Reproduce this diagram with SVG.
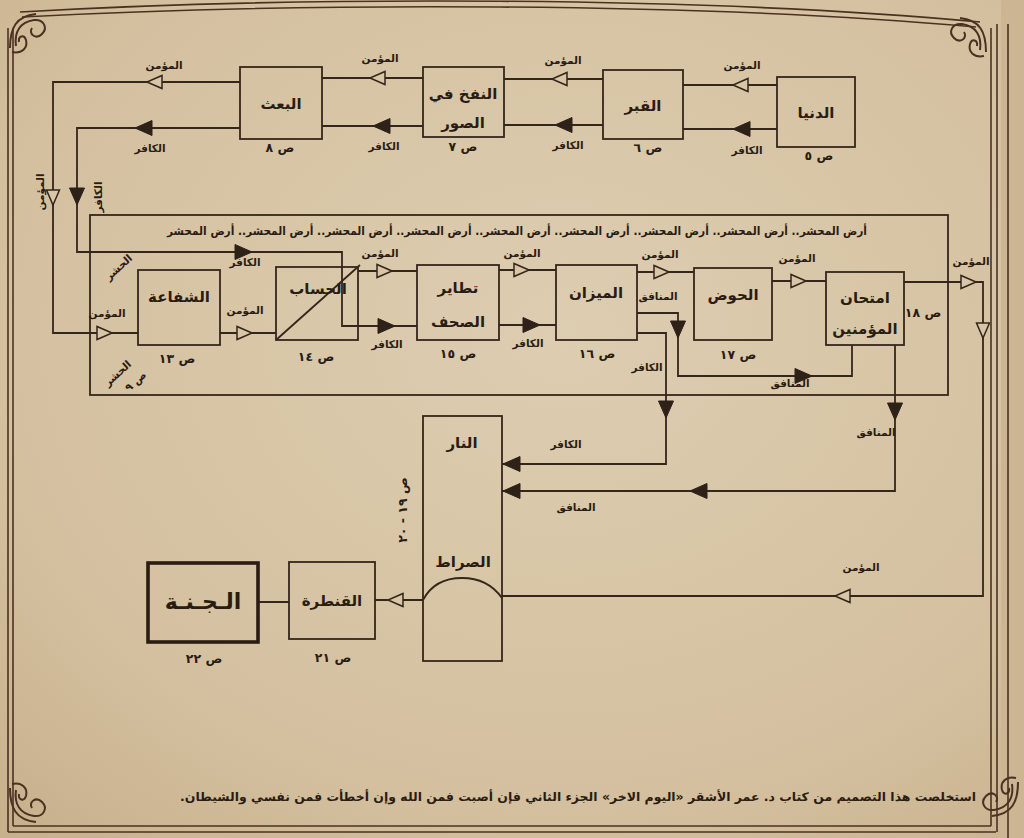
<svg xmlns="http://www.w3.org/2000/svg" width="1024" height="838" viewBox="0 0 1024 838">
<style>
.ln{fill:none;stroke:#35261b;stroke-width:1.8;stroke-linejoin:miter}
.box{fill:none;stroke:#35261b;stroke-width:1.8}
.fr{fill:none;stroke:#4a3222;stroke-width:1.6}
.t{font-family:"DejaVu Sans",sans-serif;font-weight:bold;fill:#2a1c12;text-anchor:middle;direction:rtl}
.big{font-size:15px}
.sm{font-size:10.5px}
.pg{font-size:12.5px}
.fa{fill:#2e2118;stroke:#2e2118;stroke-width:1}
.ha{fill:#d8c6a7;stroke:#35261b;stroke-width:1.5}
.orn{fill:none;stroke:#4a3222;stroke-width:2}
</style>
<defs>
<radialGradient id="bg" cx="0.55" cy="0.4" r="0.8">
<stop offset="0" stop-color="#ddcdb1"/>
<stop offset="0.7" stop-color="#d4c09f"/>
<stop offset="1" stop-color="#c7b08c"/>
</radialGradient>
<polygon id="F" class="fa" points="0,0 -17,-7.5 -17,7.5"/>
<polygon id="H" class="ha" points="0,0 -15,-6.5 -15,6.5"/>
<g id="curl">
<path class="orn" d="M4,40 C4,20 10,8 30,6 M10,38 C8,24 14,14 28,12 C38,11 42,20 36,26 C30,32 22,26 26,20 M6,44 C16,46 22,40 20,32 C18,26 12,28 13,34"/>
</g>
</defs>
<rect x="0" y="0" width="1024" height="838" fill="url(#bg)"/>
<rect x="1001" y="0" width="23" height="838" fill="#cbb592"/>
<g id="frame">
<path class="fr" d="M8,28 V832 M13,28 V826 M8,832 H996 M13,826 H991 M991,28 V826 M997,24 V832 M1008,24 V838"/>
<path class="fr" d="M20,12 C300,-4 700,-4 980,22 M22,17 C300,2 700,2 976,27"/>
<use href="#curl" transform="translate(6,8)"/>
<use href="#curl" transform="translate(990,12) scale(-1,1)"/>
<use href="#curl" transform="translate(6,828) scale(1,-1)"/>
<use href="#curl" transform="translate(1022,822) scale(-1,-1)"/>
</g>
<g id="connectors">
<rect class="ln" x="90" y="215" width="858" height="180"/>
<text class="t" font-size="11.5" x="517" y="235" textLength="700" lengthAdjust="spacingAndGlyphs">أرض المحشر.. أرض المحشر.. أرض المحشر.. أرض المحشر.. أرض المحشر.. أرض المحشر.. أرض المحشر.. أرض المحشر.. أرض المحشر</text>
<text class="t sm" transform="translate(121,270) rotate(-42)">الحشر</text>
<text class="t sm" transform="translate(120,376) rotate(-42)">الحشر</text>
<text class="t sm" transform="translate(138,384) rotate(-42)">ص ٩</text>
<path class="ln" d="M777,85 H683 M777,129 H683 M603,79 H504 M603,125 H504 M423,78 H322 M423,126 H322"/>
<path class="ln" d="M240,82 H53 V333 H138"/>
<path class="ln" d="M240,128 H77 V252 H342 V326 H417"/>
<path class="ln" d="M220,333 H276 M358,271 H417 M499,270 H556 M499,325 H556 M637,272 H694 M772,281 H826"/>
<path class="ln" d="M904,282 H983 V596 H502"/>
<path class="ln" d="M637,313 H678 V376 H852 V345"/>
<path class="ln" d="M637,333 H666 V464 H502"/>
<path class="ln" d="M895,345 V491 H502"/>
<path class="ln" d="M423,600 H375 M289,602 H258"/>
<use href="#H" transform="translate(733,85) rotate(180)"/>
<use href="#F" transform="translate(733,129) rotate(180)"/>
<use href="#H" transform="translate(552,79) rotate(180)"/>
<use href="#F" transform="translate(555,125) rotate(180)"/>
<use href="#H" transform="translate(370,78) rotate(180)"/>
<use href="#F" transform="translate(373,126) rotate(180)"/>
<use href="#H" transform="translate(147,82) rotate(180)"/>
<use href="#F" transform="translate(135,128) rotate(180)"/>
<use href="#H" transform="translate(53,205) rotate(90)"/>
<use href="#F" transform="translate(77,205) rotate(90)"/>
<use href="#F" transform="translate(252,252)"/>
<use href="#F" transform="translate(395,326)"/>
<use href="#H" transform="translate(112,333)"/>
<use href="#H" transform="translate(252,333)"/>
<use href="#H" transform="translate(392,271)"/>
<use href="#H" transform="translate(529,270)"/>
<use href="#F" transform="translate(540,325)"/>
<use href="#H" transform="translate(669,272)"/>
<use href="#H" transform="translate(806,281)"/>
<use href="#H" transform="translate(976,282)"/>
<use href="#H" transform="translate(983,338) rotate(90)"/>
<use href="#H" transform="translate(835,596) rotate(180)"/>
<use href="#F" transform="translate(678,338) rotate(90)"/>
<use href="#F" transform="translate(812,376)"/>
<use href="#F" transform="translate(666,418) rotate(90)"/>
<use href="#F" transform="translate(503,464) rotate(180)"/>
<use href="#F" transform="translate(895,420) rotate(90)"/>
<use href="#F" transform="translate(690,491) rotate(180)"/>
<use href="#F" transform="translate(503,491) rotate(180)"/>
<use href="#H" transform="translate(388,600) rotate(180)"/>
<text class="t sm" x="742" y="69">المؤمن</text>
<text class="t sm" x="747" y="154">الكافر</text>
<text class="t sm" x="563" y="64">المؤمن</text>
<text class="t sm" x="568" y="149">الكافر</text>
<text class="t sm" x="380" y="62">المؤمن</text>
<text class="t sm" x="384" y="150">الكافر</text>
<text class="t sm" x="164" y="69">المؤمن</text>
<text class="t sm" x="150" y="152">الكافر</text>
<text class="t sm" transform="translate(44,192) rotate(-90)">المؤمن</text>
<text class="t sm" transform="translate(102,197) rotate(-90)">الكافر</text>
<text class="t sm" x="245" y="266">الكافر</text>
<text class="t sm" x="107" y="317">المؤمن</text>
<text class="t sm" x="245" y="314">المؤمن</text>
<text class="t sm" x="380" y="257">المؤمن</text>
<text class="t sm" x="387" y="348">الكافر</text>
<text class="t sm" x="522" y="257">المؤمن</text>
<text class="t sm" x="528" y="347">الكافر</text>
<text class="t sm" x="660" y="258">المؤمن</text>
<text class="t sm" x="658" y="300">المنافق</text>
<text class="t sm" x="797" y="262">المؤمن</text>
<text class="t sm" x="971" y="265">المؤمن</text>
<text class="t sm" x="647" y="371">الكافر</text>
<text class="t sm" x="790" y="387">المنافق</text>
<text class="t sm" x="876" y="436">المنافق</text>
<text class="t sm" x="566" y="448">الكافر</text>
<text class="t sm" x="576" y="511">المنافق</text>
<text class="t sm" x="861" y="571">المؤمن</text>
</g>
<g id="n-dunya">
<rect class="box" x="777" y="77" width="78" height="70"/>
<text class="t big" x="816" y="118">الدنيا</text>
<text class="t pg" x="819" y="160">ص ٥</text>
</g>
<g id="n-qabr">
<rect class="box" x="603" y="70" width="80" height="69"/>
<text class="t big" x="643" y="111">القبر</text>
<text class="t pg" x="648" y="152">ص ٦</text>
</g>
<g id="n-nafkh">
<rect class="box" x="423" y="67" width="81" height="70"/>
<text class="t big" x="463" y="99">النفخ في</text>
<text class="t big" x="463" y="128">الصور</text>
<text class="t pg" x="463" y="151">ص ٧</text>
</g>
<g id="n-baath">
<rect class="box" x="240" y="67" width="82" height="72"/>
<text class="t big" x="281" y="109">البعث</text>
<text class="t pg" x="280" y="152">ص ٨</text>
</g>
<g id="n-shafaa">
<rect class="box" x="138" y="270" width="82" height="75"/>
<text class="t big" x="179" y="302">الشفاعة</text>
<text class="t pg" x="177" y="363">ص ١٣</text>
</g>
<g id="n-hisab">
<rect class="box" x="276" y="267" width="82" height="73"/>
<line class="ln" x1="276" y1="340" x2="360" y2="265"/>
<text class="t big" x="318" y="294">الحساب</text>
<text class="t pg" x="316" y="361">ص ١٤</text>
</g>
<g id="n-tatayur">
<rect class="box" x="417" y="265" width="82" height="75"/>
<text class="t big" x="458" y="293">تطاير</text>
<text class="t big" x="458" y="327">الصحف</text>
<text class="t pg" x="458" y="358">ص ١٥</text>
</g>
<g id="n-mizan">
<rect class="box" x="556" y="265" width="81" height="75"/>
<text class="t big" x="596" y="298">الميزان</text>
<text class="t pg" x="597" y="358">ص ١٦</text>
</g>
<g id="n-hawd">
<rect class="box" x="694" y="268" width="78" height="72"/>
<text class="t big" x="733" y="300">الحوض</text>
<text class="t pg" x="738" y="359">ص ١٧</text>
</g>
<g id="n-imtihan">
<rect class="box" x="826" y="272" width="78" height="73"/>
<text class="t big" x="865" y="303">امتحان</text>
<text class="t big" x="865" y="334">المؤمنين</text>
<text class="t pg" x="923" y="317">ص ١٨</text>
</g>
<g id="n-nar">
<rect class="box" x="423" y="416" width="79" height="245"/>
<text class="t big" x="462" y="448">النار</text>
<text class="t big" x="463" y="567">الصراط</text>
<path class="ln" d="M423,600 C432,583 446,578 462,578 C479,578 492,584 502,598"/>
<text class="t pg" transform="translate(407,510) rotate(-90)">ص ١٩ - ٢٠</text>
</g>
<g id="n-qantara">
<rect class="box" x="289" y="562" width="86" height="77"/>
<text class="t big" x="332" y="606">القنطرة</text>
<text class="t pg" x="333" y="662">ص ٢١</text>
</g>
<g id="n-janna">
<rect x="148" y="563" width="110" height="79" fill="none" stroke="#2a1c12" stroke-width="3.6"/>
<text class="t" font-size="22" x="203" y="609">الـجـنـة</text>
<text class="t pg" x="204" y="663">ص ٢٢</text>
</g>
<text class="t" font-size="12" x="578" y="801" textLength="796" lengthAdjust="spacingAndGlyphs">استخلصت هذا التصميم من كتاب د. عمر الأشقر «اليوم الاخر» الجزء الثاني فإن أصبت فمن الله وإن أخطأت فمن نفسي والشيطان.</text>
</svg>
